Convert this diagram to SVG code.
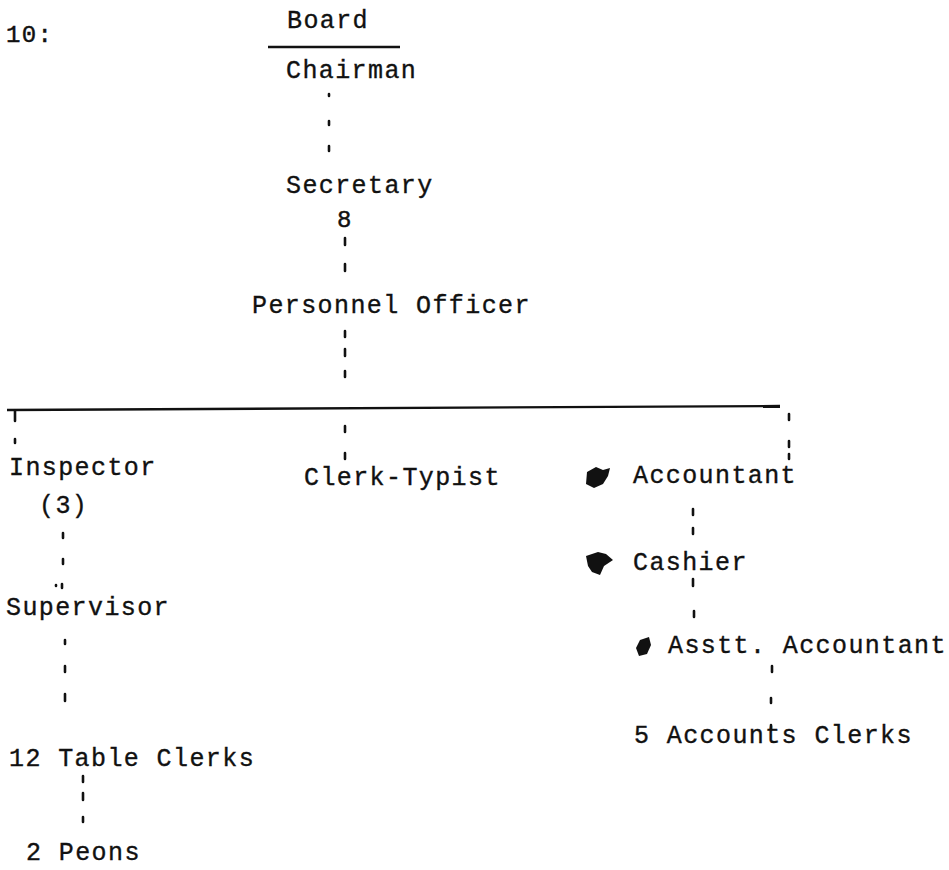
<svg xmlns="http://www.w3.org/2000/svg" width="949" height="870" viewBox="0 0 949 870">
<style>
text{font-family:"Liberation Mono","DejaVu Sans Mono",monospace;font-size:25px;letter-spacing:1.4px;fill:#111;stroke:#111;stroke-width:0.35}
.sm{font-size:24px;stroke-width:0.45}
.d{stroke:#111;stroke-width:2.6;stroke-linecap:round;fill:none}
.ln{stroke:#111;stroke-width:2.4;fill:none}
.blot{fill:#111}
</style>
<rect width="949" height="870" fill="#fff"/>
<g id="label"><text class="sm" x="6" y="42">10:</text></g>
<g id="board"><text x="287" y="28">Board</text></g>
<g id="chairman"><text x="286" y="78">Chairman</text></g>
<g id="secretary"><text x="286" y="193">Secretary</text><text class="sm" x="337" y="227">8</text></g>
<g id="personnel-officer"><text x="252" y="313">Personnel Officer</text></g>
<g id="inspector"><text x="9" y="475">Inspector</text><text x="39" y="513">(3)</text></g>
<g id="clerk-typist"><text x="304" y="485">Clerk-Typist</text></g>
<g id="accountant"><path class="blot" d="M587 472 L596 467 L603 470 L610 468 L608 476 L603 484 L594 488 L586 484 Z"/><text x="633" y="483">Accountant</text></g>
<g id="cashier"><path class="blot" d="M586 556 L598 552 L606 554 L613 560 L604 566 L600 575 L592 572 L588 566 Z"/><text x="633" y="570">Cashier</text></g>
<g id="supervisor"><text x="6" y="615">Supervisor</text></g>
<g id="asstt-accountant"><path class="blot" d="M640 640 L649 637 L651 645 L647 654 L639 656 L636 648 Z"/><text x="668" y="653">Asstt. Accountant</text></g>
<g id="table-clerks"><text x="9" y="766">12 Table Clerks</text></g>
<g id="accounts-clerks"><text x="634" y="743">5 Accounts Clerks</text></g>
<g id="peons"><text x="26" y="860">2 Peons</text></g>
<g id="connectors">
<line class="ln" x1="268" y1="47" x2="400" y2="47"/>
<path class="d" d="M329 94v2M329 121v4M329 146v5"/>
<path class="d" d="M345 238v7M345 264v7"/>
<path class="d" d="M345 331v6M345 349v7M345 371v6"/>
<path class="ln" d="M7 410 L780 406"/>
<path class="d" d="M15 411v10M15 439v4"/>
<path class="d" d="M345 426v6M345 453v6"/>
<path class="d" d="M789 414v6M789 441v6M789 454v5"/>
<path class="d" d="M63 533v5M63 559v5M56 585v1M62 584v4"/>
<path class="d" d="M65 640v4M65 666v6M65 694v7"/>
<path class="d" d="M83 776v6M83 793v7M83 817v5"/>
<path class="d" d="M693 509v6M693 528v6M693 579v7M694 611v6"/>
<path class="d" d="M772 666v6M771 698v5M771 725v5"/>
</g>
</svg>
